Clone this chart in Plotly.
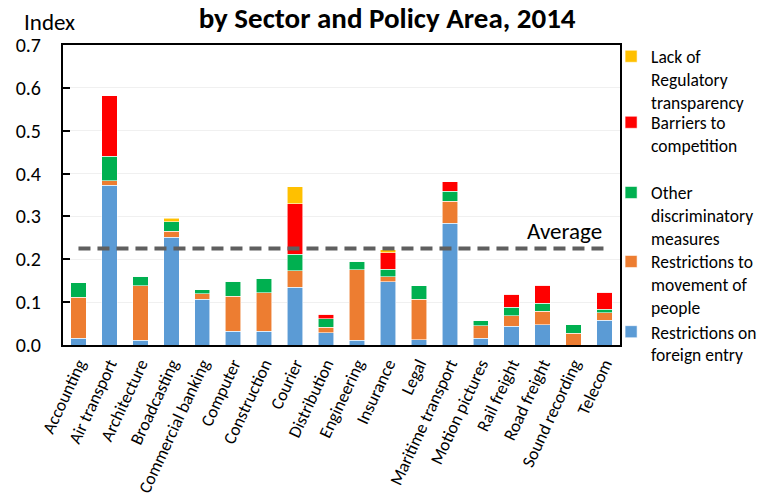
import plotly.graph_objects as go

categories = ["Accounting", "Air transport", "Architecture", "Broadcasting", "Commercial banking",
              "Computer", "Construction", "Courier", "Distribution", "Engineering", "Insurance",
              "Legal", "Maritime transport", "Motion pictures", "Rail freight", "Road freight",
              "Sound recording", "Telecom"]

foreign_entry = [0.016, 0.373, 0.011, 0.251, 0.107, 0.032, 0.032, 0.135, 0.029, 0.011, 0.148,
                 0.012, 0.284, 0.016, 0.044, 0.047, 0.000, 0.058]
movement_people = [0.096, 0.010, 0.127, 0.015, 0.013, 0.082, 0.090, 0.038, 0.012, 0.165, 0.011,
                   0.095, 0.052, 0.029, 0.024, 0.032, 0.027, 0.017]
other_discrim = [0.033, 0.057, 0.023, 0.022, 0.009, 0.035, 0.034, 0.039, 0.020, 0.020, 0.018,
                 0.031, 0.023, 0.013, 0.020, 0.018, 0.020, 0.008]
barriers_comp = [0.000, 0.142, 0.000, 0.000, 0.000, 0.000, 0.000, 0.118, 0.011, 0.000, 0.038,
                 0.000, 0.022, 0.000, 0.031, 0.042, 0.000, 0.040]
regulatory_transp = [0.000, 0.000, 0.000, 0.008, 0.000, 0.000, 0.000, 0.039, 0.000, 0.000, 0.007,
                     0.000, 0.000, 0.000, 0.000, 0.000, 0.000, 0.000]
average_value = 0.225

series = [
    ("Restrictions on<br>foreign entry", foreign_entry, "#5B9BD5", "legend5"),
    ("Restrictions to<br>movement of<br>people", movement_people, "#ED7D31", "legend4"),
    ("Other<br>discriminatory<br>measures", other_discrim, "#00B050", "legend3"),
    ("Barriers to<br>competition", barriers_comp, "#FF0000", "legend2"),
    ("Lack of<br>Regulatory<br>transparency", regulatory_transp, "#FFC000", "legend"),
]

FONT = "Calibri, Carlito, Lato, sans-serif"

fig = go.Figure()
for name, vals, color, lg in series:
    fig.add_trace(go.Bar(
        x=categories, y=vals, name=name, legend=lg,
        marker=dict(color=color, line=dict(color="rgba(255,255,255,0.7)", width=0.8)),
    ))

fig.add_trace(go.Scatter(
    x=categories, y=[average_value] * len(categories), mode="lines",
    line=dict(color="#5F5F5F", width=4, dash="12px,7px"), showlegend=False, hoverinfo="skip",
))

fig.add_annotation(x=categories[-1], y=average_value, xref="x", yref="y", text="Average",
                   showarrow=False, xanchor="right", yanchor="middle", xshift=-1, yshift=18,
                   font=dict(family=FONT, size=23, color="black"))

legend_font = dict(family=FONT, size=17.5, color="black")
def leg(y):
    return dict(x=0.984, xanchor="left", y=y, yanchor="top", font=legend_font, valign="top",
                itemwidth=30, bgcolor="rgba(0,0,0,0)", itemclick=False, itemdoubleclick=False)

fig.update_layout(
    width=765, height=497,
    barmode="stack", bargap=0.5,
    plot_bgcolor="white", paper_bgcolor="white",
    margin=dict(l=63, r=145, t=45, b=152, autoexpand=False),
    font=dict(family=FONT, color="black"),
    title=dict(text="<b>by Sector and Policy Area, 2014</b>", x=0.506, xanchor="center",
               y=0.965, yanchor="middle", font=dict(family=FONT, size=29, color="black")),
    legend=leg(1.022), legend2=leg(0.802), legend3=leg(0.568), legend4=leg(0.338),
    legend5=leg(0.104),
    showlegend=True,
)

fig.update_yaxes(range=[0, 0.7], dtick=0.1, tickformat=".1f", showgrid=True, gridcolor="#F0F0F0",
                 gridwidth=1, ticks="inside", ticklen=7, tickwidth=2, tickcolor="black",
                 ticklabelstandoff=16, automargin=False,
                 showline=True, linecolor="black", linewidth=2, mirror=True,
                 tickfont=dict(family=FONT, size=20, color="black"), zeroline=False)
fig.update_xaxes(tickangle=-65, showline=True, linecolor="black", linewidth=2, mirror=True,
                 ticks="", automargin=False, tickfont=dict(family=FONT, size=17.5, color="black"))

fig.add_annotation(text="Index", xref="paper", yref="paper", x=-0.073, y=1.077, xanchor="left",
                   yanchor="middle", showarrow=False, font=dict(family=FONT, size=23, color="black"))

fig.write_html("out.html", config={"displayModeBar": False},
               post_script="document.body.style.margin='0';")
